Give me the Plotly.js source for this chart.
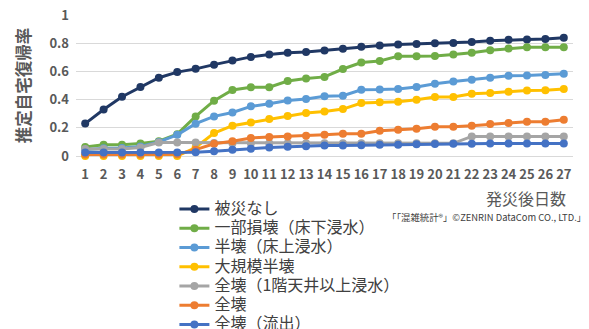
<!DOCTYPE html>
<html>
<head>
<meta charset="utf-8">
<script src="https://cdn.plot.ly/plotly-3.0.1.min.js"></script>
<style>
  html, body { margin: 0; padding: 0; background: #ffffff; }
  #chart { width: 589px; height: 329px; }
</style>
</head>
<body>
<div id="chart"></div>
<script>
// Days after the disaster (category axis)
const days = ['1','2','3','4','5','6','7','8','9','10','11','12','13','14',
              '15','16','17','18','19','20','21','22','23','24','25','26','27'];

// Estimated return-home rate by damage level
const noDamage = [0.23,0.33,0.42,0.49,0.555,0.595,0.618,0.648,0.678,0.703,0.72,0.732,0.738,0.749,
                  0.76,0.775,0.784,0.791,0.795,0.80,0.801,0.808,0.817,0.824,0.826,0.83,0.838];
const partial = [0.064,0.08,0.08,0.088,0.105,0.155,0.281,0.392,0.468,0.487,0.488,0.532,0.549,0.561,
                 0.617,0.663,0.674,0.708,0.708,0.709,0.72,0.732,0.75,0.762,0.771,0.772,0.772];
const halfAbove = [0.045,0.055,0.057,0.068,0.1,0.15,0.229,0.281,0.309,0.352,0.371,0.393,0.405,0.423,
                   0.428,0.47,0.471,0.476,0.489,0.513,0.529,0.541,0.555,0.569,0.571,0.575,0.584];
const largeHalf = [0,0,0,0,0,0,0.06,0.163,0.215,0.238,0.262,0.283,0.305,0.316,
                   0.333,0.376,0.381,0.384,0.399,0.418,0.419,0.442,0.447,0.456,0.465,0.466,0.475];
const totalCeiling = [0.05,0.05,0.05,0.06,0.095,0.095,0.095,0.093,0.09,0.09,0.09,0.09,0.09,0.09,
                      0.09,0.09,0.09,0.09,0.09,0.09,0.09,0.139,0.139,0.139,0.139,0.139,0.139];
const total = [0.01,0.01,0.01,0.01,0.01,0.012,0.045,0.087,0.104,0.128,0.135,0.139,0.144,0.151,
               0.158,0.158,0.179,0.187,0.194,0.208,0.208,0.215,0.227,0.234,0.243,0.243,0.257];
const washedAway = [0.025,0.025,0.025,0.025,0.025,0.025,0.027,0.033,0.045,0.052,0.061,0.066,0.07,0.075,
                    0.075,0.077,0.08,0.08,0.083,0.085,0.086,0.087,0.088,0.088,0.088,0.088,0.088];

const seriesNames = ['被災なし','一部損壊（床下浸水）','半壊（床上浸水）','大規模半壊',
                     '全壊（1階天井以上浸水）','全壊','全壊（流出）'];
const seriesValues = [noDamage, partial, halfAbove, largeHalf, totalCeiling, total, washedAway];
const seriesColors = ['#203864','#70AD47','#5B9BD5','#FFC000','#A5A5A5','#ED7D31','#4472C4'];

const traces = seriesNames.map((name, i) => ({
  type: 'scatter',
  mode: 'lines+markers',
  x: days,
  y: seriesValues[i],
  name: '<span style="font-size:16px">' + name + '</span>',
  line: { color: seriesColors[i], width: 3 },
  marker: { color: seriesColors[i], size: 8 },
  cliponaxis: false,
  hoverinfo: 'x+y'
}));

const grey = '#595959';
const jp = '"Noto Sans CJK JP", "Noto Sans", sans-serif';

const layout = {
  width: 589,
  height: 329,
  margin: { l: 76, r: 16, t: 15, b: 173, pad: 0, autoexpand: false },
  paper_bgcolor: '#ffffff',
  plot_bgcolor: '#ffffff',
  showlegend: true,
  font: { family: jp, color: grey },
  xaxis: {
    type: 'category',
    range: [-0.5, 26.5],
    autorange: false,
    automargin: false,
    showgrid: false,
    zeroline: false,
    showline: false,
    ticks: '',
    ticklabelstandoff: 9,
    tickfont: { family: jp, size: 13, color: grey, weight: 'bold' }
  },
  yaxis: {
    range: [0, 1],
    autorange: false,
    automargin: false,
    dtick: 0.2,
    showgrid: true,
    gridcolor: '#d9d9d9',
    gridwidth: 1,
    zeroline: true,
    zerolinecolor: '#d9d9d9',
    zerolinewidth: 1,
    showline: false,
    ticks: '',
    ticklabelstandoff: 6,
    tickfont: { family: jp, size: 13, color: grey, weight: 'bold' },
    title: {
      text: '推定自宅復帰率',
      standoff: 14,
      font: { family: jp, size: 16.5, color: grey, weight: 'bold' }
    }
  },
  legend: {
    x: 0.198,
    y: -0.273,
    xanchor: 'left',
    yanchor: 'top',
    orientation: 'v',
    bgcolor: 'rgba(0,0,0,0)',
    borderwidth: 0,
    itemwidth: 30,
    font: { family: jp, size: 12.5, color: '#404040' }
  },
  annotations: [
    {
      text: '発災後日数',
      xref: 'paper', yref: 'paper',
      x: 0.99, y: -0.3,
      xanchor: 'right', yanchor: 'middle',
      showarrow: false,
      font: { family: jp, size: 16, color: grey }
    },
    {
      text: '「「混雑統計®」©ZENRIN DataCom CO., LTD.」',
      xref: 'paper', yref: 'paper',
      x: 1.03, y: -0.43,
      xanchor: 'right', yanchor: 'middle',
      showarrow: false,
      font: { family: '"Noto Sans CJK JP", sans-serif', size: 9.4, color: '#404040' }
    }
  ]
};

Plotly.newPlot('chart', traces, layout, { displayModeBar: false, staticPlot: true });
</script>
</body>
</html>
